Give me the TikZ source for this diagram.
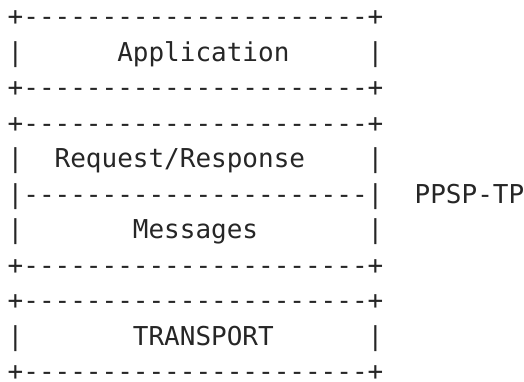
\documentclass[tikz,border=0pt]{standalone}
\usepackage{fontspec}
\setmonofont{DejaVu Sans Mono}
\usepackage{tikz}
\usetikzlibrary{positioning}
\newdimen\rowDist
\rowDist=35.5pt

\begin{document}
\begin{tikzpicture}[
    row/.style={%
      anchor=base west,
      inner sep=0pt,
      text=black!85,
      font=\ttfamily\fontsize{26}{35.5}\selectfont,
    },
  ]

    \useasboundingbox (0pt,0pt) rectangle (524pt,-381pt);

    \node [row] (A) at (7.5pt,-25.5pt) {+----------------------+};
    \path (A.base west) ++(0,-\rowDist) node [row] (B) {|~~~~~~Application~~~~~|};
    \path (B.base west) ++(0,-\rowDist) node [row] (C) {+----------------------+};
    \path (C.base west) ++(0,-\rowDist) node [row] (D) {+----------------------+};
    \path (D.base west) ++(0,-\rowDist) node [row] (E) {|~~Request/Response~~~~|};
    \path (E.base west) ++(0,-\rowDist) node [row] (F) {|----------------------|~~PPSP-TP};
    \path (F.base west) ++(0,-\rowDist) node [row] (G) {|~~~~~~~Messages~~~~~~~|};
    \path (G.base west) ++(0,-\rowDist) node [row] (H) {+----------------------+};
    \path (H.base west) ++(0,-\rowDist) node [row] (I) {+----------------------+};
    \path (I.base west) ++(0,-\rowDist) node [row] (J) {|~~~~~~~TRANSPORT~~~~~~|};
    \path (J.base west) ++(0,-\rowDist) node [row] (K) {+----------------------+};

\end{tikzpicture}
\end{document}
